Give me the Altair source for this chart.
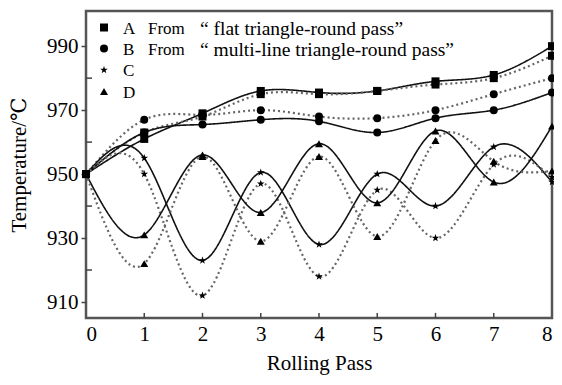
import altair as alt
import pandas as pd

# ---------------- data ----------------
passes = [0, 1, 2, 3, 4, 5, 6, 7, 8]

A_solid = [950, 961, 969, 976, 975.5, 976, 979, 981, 990]
A_dotted = [950, 963, 968, 975, 975, 976, 978, 980, 987]
B_solid = [950, 963, 965.5, 967, 966.5, 963, 967.5, 970, 975.5]
B_dotted = [950, 967, 968.5, 970, 968, 967.5, 970, 975, 980]
C_solid = [950, 955, 923, 950.5, 928, 950, 940, 958.5, 947.5]
C_dotted = [950, 950, 912, 947, 918, 945, 930, 953, 949]
D_solid = [950, 931, 956, 938, 959.5, 941, 963.5, 947.5, 965]
D_dotted = [950, 922, 955.5, 929, 955.5, 930.5, 960.5, 954, 951]

positions = ["A", "B", "C", "D"]
styles = ["dotted", "solid"]
legend_letters = ["A", "B", "C", "D"]
legend_from = ["From", "From", "", ""]
legend_desc = ["\u201c flat triangle-round pass\u201d",
               "\u201c multi-line triangle-round pass\u201d", "", ""]

x_ticks = [0, 1, 2, 3, 4, 5, 6, 7, 8]
x_inner_ticks = [1, 2, 3, 4, 5, 6, 7]
y_major = [910, 930, 950, 970, 990]
y_minor = [920, 940, 960, 980]

# ---------------- build table ----------------
series = {
    ("A", "solid"): A_solid, ("A", "dotted"): A_dotted,
    ("B", "solid"): B_solid, ("B", "dotted"): B_dotted,
    ("C", "solid"): C_solid, ("C", "dotted"): C_dotted,
    ("D", "solid"): D_solid, ("D", "dotted"): D_dotted,
}
rows = []
for (pos, sty), vals in series.items():
    for p, v in zip(passes, vals):
        rows.append({"rolling_pass": p, "temp": v, "pos": pos, "style": sty,
                     "series": pos + "_" + sty})
df = pd.DataFrame(rows)

FONT = "'Liberation Serif', 'DejaVu Serif', serif"
STAR = ("M0,-1L0.235,-0.324L0.951,-0.309L0.380,0.124L0.588,0.809L0,0.4"
        "L-0.588,0.809L-0.380,0.124L-0.951,-0.309L-0.235,-0.324Z")

xscale = alt.Scale(domain=[0, 8], nice=False)
yscale = alt.Scale(domain=[905, 1001], nice=False, zero=False)

X = alt.X("rolling_pass:Q", scale=xscale,
          axis=alt.Axis(values=x_ticks, title="Rolling Pass", ticks=False,
                        labelPadding=5, domain=False, grid=False,
                        labelFont=FONT, labelFontSize=21, labelColor="black",
                        titleFont=FONT, titleFontSize=21, titleFontWeight="normal",
                        titleColor="black", titlePadding=8, format="d"))
Y = alt.Y("temp:Q", scale=yscale,
          axis=alt.Axis(values=y_major, title="Temperature/\u2103", tickSize=5,
                        tickColor="#444", tickWidth=1.5, labelPadding=3,
                        domain=False, grid=False,
                        labelFont=FONT, labelFontSize=21, labelColor="black",
                        titleFont=FONT, titleFontSize=21, titleFontWeight="normal",
                        titleColor="black", titlePadding=17, format="d"))

shape_scale = alt.Scale(domain=positions,
                        range=["square", "circle", STAR, "triangle-up"])
size_scale = alt.Scale(domain=positions, range=[64, 64, 80, 85])

base = alt.Chart(df)

lines = base.mark_line(interpolate="natural").encode(
    x=X, y=Y,
    detail="series:N",
    color=alt.Color("style:N", scale=alt.Scale(domain=styles, range=["#666666", "#111111"]), legend=None),
    strokeDash=alt.StrokeDash("style:N", scale=alt.Scale(domain=styles, range=[[2, 3], [1, 0]]), legend=None),
    strokeWidth=alt.StrokeWidth("style:N", scale=alt.Scale(domain=styles, range=[2.2, 1.6]), legend=None),
    order=alt.Order("rolling_pass:Q"),
)

points = base.mark_point(filled=True, opacity=1, color="black").encode(
    x="rolling_pass:Q", y="temp:Q",
    shape=alt.Shape("pos:N", scale=shape_scale, legend=None),
    size=alt.Size("pos:O", scale=size_scale, legend=None),
)

# inward minor ticks
xt = alt.Chart(pd.DataFrame({"t": x_inner_ticks, "b": [905] * 7, "e": [906.6] * 7})).mark_rule(
    color="#444", strokeWidth=1.5).encode(
    x=alt.X("t:Q", scale=xscale), y=alt.Y("b:Q", scale=yscale), y2="e:Q")
yt = alt.Chart(pd.DataFrame({"t": y_minor})).mark_rule(color="#444", strokeWidth=1.5).encode(
    y=alt.Y("t:Q", scale=yscale), x=alt.value(0), x2=alt.value(6))

# legend
leg_layers = []
row_y = [16.5, 37.5, 59, 80.5]
for i, letter in enumerate(legend_letters):
    ld = pd.DataFrame({"pos": [letter], "label": [letter],
                       "frm": [legend_from[i]], "desc": [legend_desc[i]]})
    lc = alt.Chart(ld)
    leg_layers.append(lc.mark_point(filled=True, opacity=1, color="black").encode(
        x=alt.value(18), y=alt.value(row_y[i]),
        shape=alt.Shape("pos:N", scale=shape_scale, legend=None),
        size=alt.Size("pos:O", scale=size_scale, legend=None)))
    for field, xpos, fs in [("label", 37, 17), ("frm", 62, 17), ("desc", 114, 19.5)]:
        leg_layers.append(lc.mark_text(align="left", baseline="middle", font=FONT,
                                       fontSize=fs, color="black").encode(
            x=alt.value(xpos), y=alt.value(row_y[i] + 1), text=f"{field}:N"))

chart = alt.layer(lines, points, xt, yt, *leg_layers).properties(
    width=546, height=369,
    autosize=alt.AutoSizeParams(type="fit", contains="padding"),
    padding={"left": 0, "top": 3, "right": -3, "bottom": 4},
    background="white",
).configure_view(stroke="#555555", strokeWidth=2.5)

chart.save("out.html", embed_options={"renderer": "svg", "actions": False})
